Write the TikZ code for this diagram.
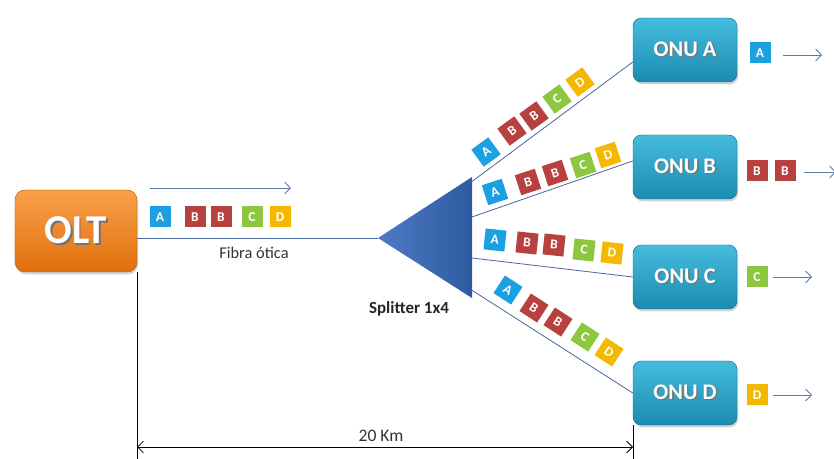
\documentclass[tikz,border=0pt]{standalone}
\usepackage{fontspec}
\setmainfont{Carlito}
\usetikzlibrary{arrows.meta,shadows,calc}
\definecolor{sqA}{HTML}{1BA1E2}
\definecolor{sqB}{HTML}{B7413E}
\definecolor{sqC}{HTML}{8DC63F}
\definecolor{sqD}{HTML}{F5B800}
\definecolor{fib}{HTML}{4A6A9C}
\definecolor{arr}{HTML}{5C7BA6}
\definecolor{oltT}{HTML}{FAA04A}
\definecolor{oltB}{HTML}{E0700C}
\definecolor{onuT}{HTML}{45BCDD}
\definecolor{onuB}{HTML}{1A8CB0}
\newcommand\shadowed[1]{\leavevmode\rlap{\raisebox{-1.2pt}{\hspace{1.2pt}\textcolor{black!55}{#1}}}#1}
\tikzset{
  sq/.style={minimum size=0.63cm, inner sep=0pt, text=white,
    font=\fontsize{11.5}{11.5}\selectfont\bfseries},
  oltbox/.style={rounded corners=0.3cm, minimum width=3.66cm, minimum height=2.46cm,
    top color=oltT, bottom color=oltB, draw=oltB!80!black, line width=0.4pt,
    text=white, font=\fontsize{35}{35}\selectfont\bfseries,
    drop shadow={shadow xshift=1pt, shadow yshift=-2pt, opacity=0.35}},
  onubox/.style={rounded corners=0.25cm, minimum width=3.12cm, minimum height=1.92cm,
    top color=onuT, bottom color=onuB, draw=onuB!80!black, line width=0.4pt,
    text=white, font=\fontsize{19}{19}\selectfont\bfseries,
    drop shadow={shadow xshift=1pt, shadow yshift=-2pt, opacity=0.35}},
  fiber/.style={draw=fib, line width=0.7pt},
  flow/.style={draw=arr, line width=0.7pt, -{Straight Barb[length=5pt,width=10pt]}},
  dim/.style={draw=black, line width=0.7pt},
  lbl/.style={text=black!80, inner sep=1pt}
}
\begin{document}
\begin{tikzpicture}[x=0.03cm,y=-0.03cm]
\useasboundingbox (0,0) rectangle (834,459);

% dimension lines
\coordinate (dL) at (137,459);
\coordinate (dR) at (633,459);

% boxes
\node[oltbox] (olt) at (76,231) {\shadowed{OLT}};
\node[onubox] (onuA) at (685,50) {\shadowed{ONU A}};
\node[onubox] (onuB) at (685,167) {\shadowed{ONU B}};
\node[onubox] (onuC) at (685,277) {\shadowed{ONU C}};
\node[onubox] (onuD) at (685,393) {\shadowed{ONU D}};

% splitter
\coordinate (tip) at (378,238);
\coordinate (sT) at (472,177);
\coordinate (sB) at (472,298);
\coordinate (oA) at (470,183);
\coordinate (oB) at (472,217);
\coordinate (oC) at (472,258);
\coordinate (oD) at (470,289);

\draw[fiber] ($(olt.east)+(0,7)$) -- (tip);
\draw[fiber] (oA) -- ($(onuA.west)+(0,12)$);
\draw[fiber] (oB) -- ($(onuB.west)+(0,-6)$);
\draw[fiber] (oC) -- (onuC.west);
\draw[fiber] (oD) -- (onuD.west);

\shade[left color={rgb,255:red,78;green,122;blue,196}, right color={rgb,255:red,46;green,90;blue,160}]
  (tip) -- (sT) -- (sB) -- cycle;

\node[font=\fontsize{14.5}{14.5}\selectfont\bfseries, text=black!85] (spl) at (409,309) {Splitter 1x4};
\node[lbl, font=\fontsize{14}{14}\selectfont] (fibra) at (254,253) {Fibra ótica};

% frames on fibre from OLT
\coordinate (fa1) at (150,188);
\coordinate (fa2) at (291,188);
\draw[flow] (fa1) -- (fa2);
\foreach \l/\c/\x/\y [count=\i] in {A/sqA/160/217,B/sqB/195/217,B/sqB/221/217,C/sqC/252/217,D/sqD/280/217}
  \node[sq, fill=\c] (f\i) at (\x,\y) {\l};

% frames on branches
\foreach \l/\c/\x/\y [count=\i] in {A/sqA/486/152,B/sqB/512/131,B/sqB/534/116,C/sqC/557/99,D/sqD/580/82}
  \node[sq, fill=\c, rotate=36] (ga\i) at (\x,\y) {\l};
\foreach \l/\c/\x/\y [count=\i] in {A/sqA/495/192,B/sqB/528/182,B/sqB/555/173,C/sqC/583/165,D/sqD/608/155}
  \node[sq, fill=\c, rotate=18] (gb\i) at (\x,\y) {\l};
\foreach \l/\c/\x/\y [count=\i] in {A/sqA/495/240,B/sqB/527/243,B/sqB/554/245,C/sqC/584/250,D/sqD/612/253}
  \node[sq, fill=\c, rotate=-6] (gc\i) at (\x,\y) {\l};
\foreach \l/\c/\x/\y [count=\i] in {A/sqA/508/290,B/sqB/534/308,B/sqB/558/322,C/sqC/585/337,D/sqD/609/352}
  \node[sq, fill=\c, rotate=-33] (gd\i) at (\x,\y) {\l};

% outputs
\node[sq, fill=sqA] (outA) at (760,53) {A};
\coordinate (aA1) at (783,55); \coordinate (aA2) at (822,55);
\draw[flow] (aA1) -- (aA2);
\node[sq, fill=sqB] (outB1) at (757,171) {B};
\node[sq, fill=sqB] (outB2) at (785,171) {B};
\coordinate (aB1) at (804,172); \coordinate (aB2) at (836,172);
\draw[flow] (aB1) -- (aB2);
\node[sq, fill=sqC] (outC) at (757,277) {C};
\coordinate (aC1) at (773,277); \coordinate (aC2) at (812,277);
\draw[flow] (aC1) -- (aC2);
\node[sq, fill=sqD] (outD) at (757,395) {D};
\coordinate (aD1) at (773,395); \coordinate (aD2) at (812,395);
\draw[flow] (aD1) -- (aD2);

% dimension
\draw[dim] (olt.south -| dL) -- (dL);
\draw[dim] (onuD.south -| dR) -- (dR);
\coordinate (dA) at (137,447);
\coordinate (dB) at (633,447);
\draw[dim, {Straight Barb[length=5pt,width=10pt]}-{Straight Barb[length=5pt,width=10pt]}] (dA) -- (dB);
\node[lbl, font=\fontsize{15}{15}\selectfont] (km) at (381,436) {20 Km};
\end{tikzpicture}
\end{document}
